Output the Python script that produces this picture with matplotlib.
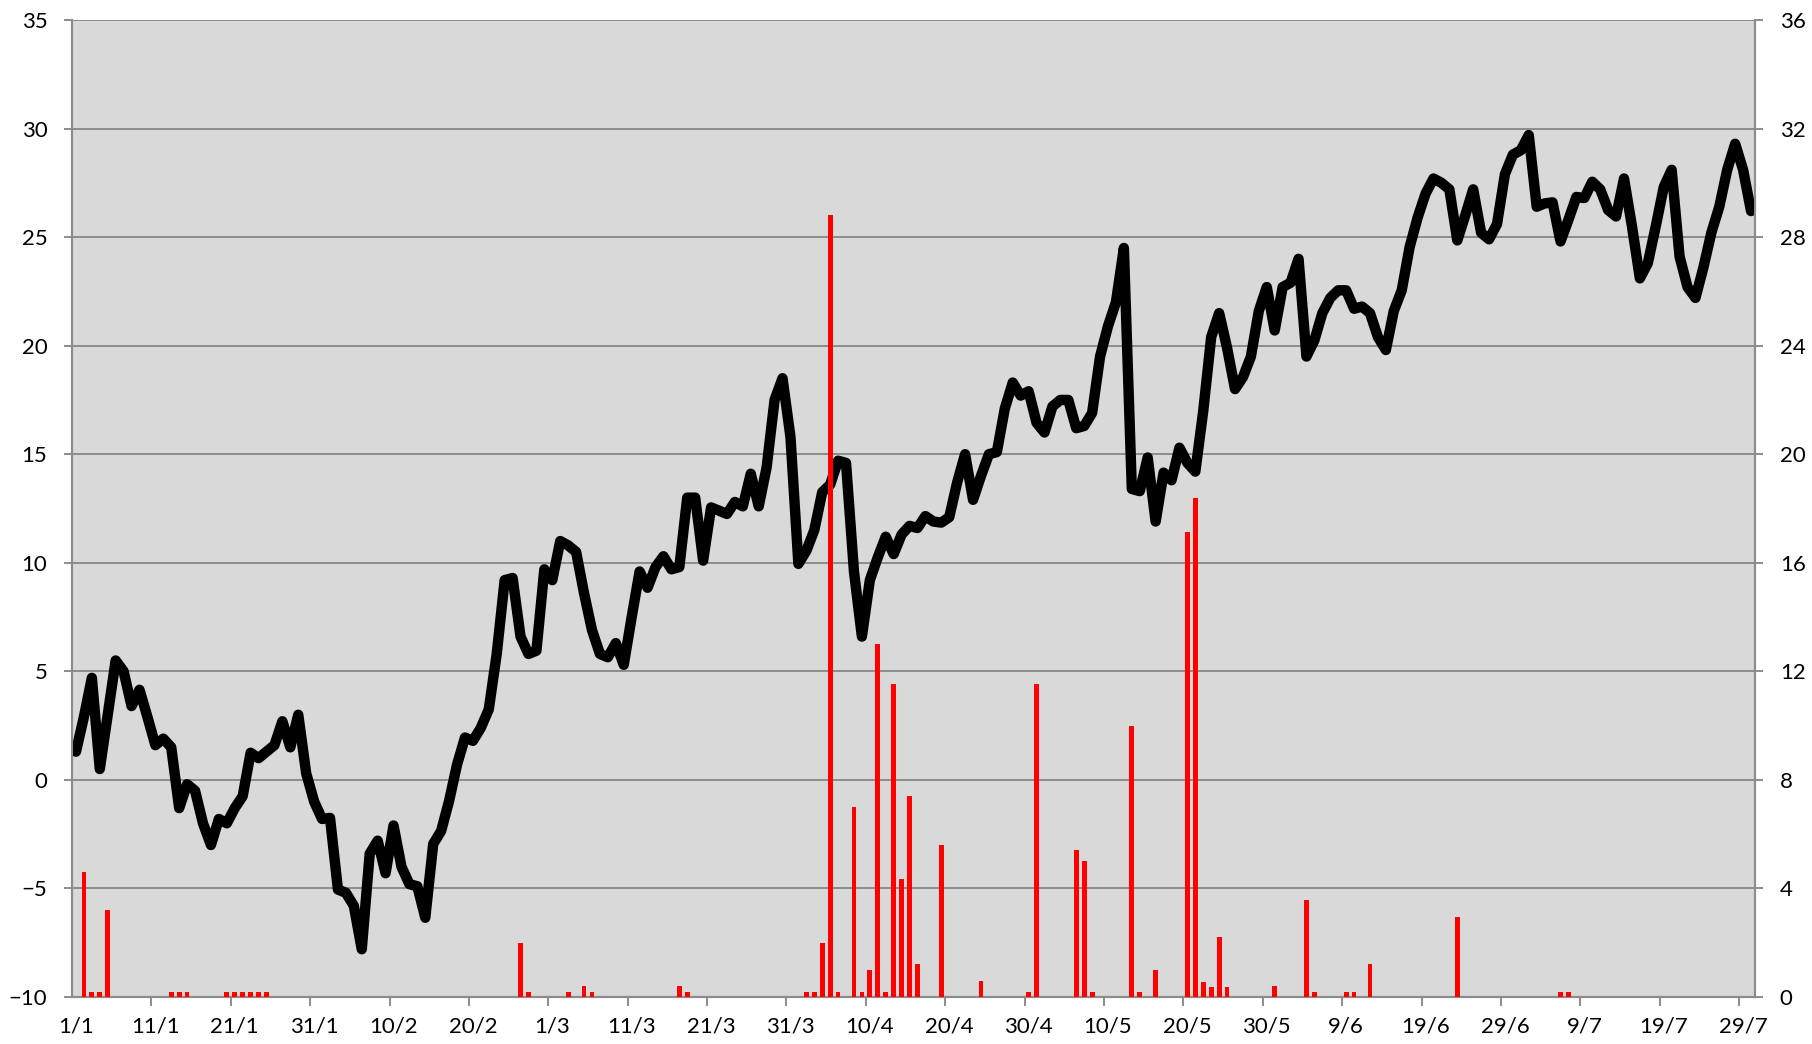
import matplotlib.pyplot as plt
import numpy as np

# daily temperature (left axis), 1/1 .. 30/7 of a leap year
temps = [
    1.3, 2.9, 4.7, 0.5, 3.0, 5.5, 5.0, 3.4, 4.15, 2.9,
    1.6, 1.9, 1.5, -1.3, -0.2, -0.5, -2.0, -3.0, -1.8, -2.0,
    -1.3, -0.75, 1.25, 1.0, 1.3, 1.6, 2.7, 1.5, 3.0, 0.3,
    -1.0, -1.8, -1.75, -5.05, -5.2, -5.8, -7.8, -3.4, -2.8, -4.3,
    -2.1, -4.0, -4.8, -4.9, -6.35, -2.95, -2.35, -0.97, 0.7, 1.95,
    1.8, 2.4, 3.25, 5.8, 9.2, 9.3, 6.6, 5.8, 5.95, 9.7,
    9.2, 11.0, 10.8, 10.5, 8.6, 6.9, 5.8, 5.65, 6.3, 5.3,
    7.5, 9.6, 8.85, 9.8, 10.3, 9.7, 9.8, 13.0, 13.0, 10.1,
    12.55, 12.4, 12.25, 12.8, 12.6, 14.1, 12.6, 14.4, 17.5, 18.5,
    15.8, 9.95, 10.55, 11.5, 13.25, 13.6, 14.7, 14.6, 9.6, 6.6,
    9.2, 10.25, 11.2, 10.4, 11.3, 11.7, 11.6, 12.15, 11.9, 11.85,
    12.1, 13.7, 15.0, 12.9, 14.0, 15.0, 15.1, 17.1, 18.3, 17.7,
    17.9, 16.45, 16.0, 17.2, 17.5, 17.5, 16.2, 16.3, 16.9, 19.5,
    20.9, 22.0, 24.5, 13.4, 13.3, 14.85, 11.9, 14.15, 13.8, 15.3,
    14.6, 14.2, 17.0, 20.4, 21.5, 19.9, 18.0, 18.55, 19.5, 21.6,
    22.7, 20.7, 22.7, 22.9, 24.0, 19.5, 20.25, 21.5, 22.2, 22.55,
    22.55, 21.7, 21.8, 21.5, 20.4, 19.8, 21.6, 22.55, 24.55, 25.9,
    27.0, 27.7, 27.5, 27.2, 24.85, 26.0, 27.2, 25.2, 24.9, 25.6,
    27.9, 28.8, 29.0, 29.7, 26.4, 26.55, 26.6, 24.8, 25.8, 26.85,
    26.8, 27.55, 27.2, 26.25, 25.95, 27.7, 25.5, 23.1, 23.8, 25.5,
    27.3, 28.1, 24.1, 22.7, 22.2, 23.6, 25.2, 26.4, 28.1, 29.3,
    28.1, 26.2,
]

# rainfall (right axis): day index -> amount
rain_days = [1, 2, 3, 4, 12, 13, 14, 19, 20, 21, 22, 23, 24,
             56, 57, 62, 64, 65, 76, 77, 92, 93, 94, 95, 96, 98, 99,
             100, 101, 102, 103, 104, 105, 106, 109, 114, 120, 121,
             126, 127, 128, 133, 134, 136, 140, 141, 142, 143, 144, 145,
             151, 155, 156, 160, 161, 163, 174, 187, 188]
rain_mm = [4.6, 0.2, 0.2, 3.2, 0.2, 0.2, 0.2, 0.2, 0.2, 0.2, 0.2, 0.2, 0.2,
           2.0, 0.2, 0.2, 0.4, 0.2, 0.4, 0.2, 0.2, 0.2, 2.0, 28.8, 0.2, 7.0, 0.2,
           1.0, 13.0, 0.2, 11.55, 4.35, 7.4, 1.2, 5.6, 0.6, 0.2, 11.55,
           5.4, 5.0, 0.2, 10.0, 0.2, 1.0, 17.15, 18.4, 0.57, 0.37, 2.2, 0.37,
           0.4, 3.56, 0.2, 0.2, 0.2, 1.2, 2.95, 0.2, 0.2]

tick_labels = ['1/1', '11/1', '21/1', '31/1', '10/2', '20/2', '1/3', '11/3',
               '21/3', '31/3', '10/4', '20/4', '30/4', '10/5', '20/5', '30/5',
               '9/6', '19/6', '29/6', '9/7', '19/7', '29/7']

plt.rcParams['font.family'] = ['Lato', 'DejaVu Sans']
grey = '#8c8c8c'

days = np.arange(len(temps))

fig = plt.figure(figsize=(18.12, 10.44), dpi=100)
ax = fig.add_axes((72 / 1812, 47 / 1044, (1755 - 72) / 1812, (997 - 20) / 1044))
ax.set_facecolor('#d9d9d9')

ax.plot(days, temps, color='black', lw=7.5, solid_joinstyle='round',
        solid_capstyle='round', zorder=3)

ax.set_xlim(-0.5, len(temps) - 0.5)
ax.set_ylim(-10, 35)
ax.set_yticks(np.arange(-10, 36, 5))
ax.grid(axis='y', color=grey, lw=1.4)
ax.set_axisbelow(True)

# tick marks on category boundaries, labels on category centres
ax.set_xticks(np.arange(9.5, len(temps), 10))
ax.set_xticklabels([])
ax.set_xticks(np.arange(0, len(temps), 10), minor=True)
ax.set_xticklabels(tick_labels, minor=True)
ax.tick_params(axis='x', which='major', length=6.5, width=1.4, color=grey)
ax.tick_params(axis='x', which='minor', length=0, pad=14, labelsize=16)
ax.tick_params(axis='y', length=5.8, width=1.4, color=grey, pad=12, labelsize=16)

for s in ['left', 'right', 'bottom']:
    ax.spines[s].set_color(grey)
    ax.spines[s].set_linewidth(1.5)
ax.spines['top'].set_visible(False)

ax2 = ax.twinx()
ax2.bar(rain_days, rain_mm, width=0.6, color='#ff0000', zorder=4)
ax2.set_ylim(0, 36)
ax2.set_yticks(np.arange(0, 37, 4))
ax2.tick_params(axis='y', length=5.8, width=1.4, color=grey, pad=12, labelsize=16)
for s in ['left', 'right', 'bottom']:
    ax2.spines[s].set_color(grey)
    ax2.spines[s].set_linewidth(1.5)
ax2.spines['top'].set_visible(False)

fig.savefig('out.png', dpi=100)
